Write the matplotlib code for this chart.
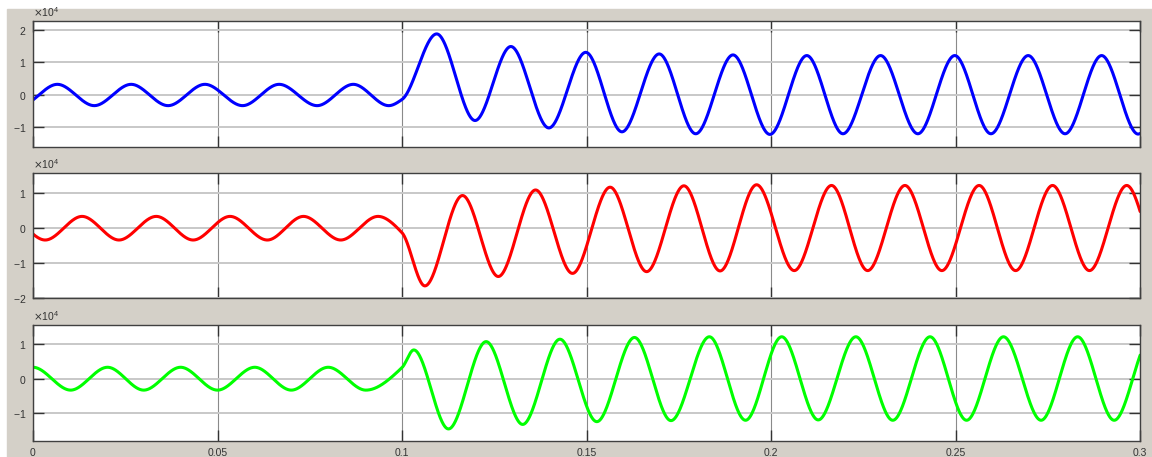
import numpy as np
import matplotlib.pyplot as plt
from matplotlib.patches import Rectangle

plt.rcParams['font.family'] = ['Liberation Sans', 'DejaVu Sans']
plt.rcParams['axes.unicode_minus'] = False

SCALE = 1e4

blue_t = [-0.0034, 0.0066, 0.0166, 0.0266, 0.0366, 0.0466, 0.0568, 0.0667, 0.0770, 0.0868,
          0.0964, 0.1000, 0.1094, 0.1198, 0.1295, 0.1398, 0.1498, 0.1596, 0.1697, 0.1796,
          0.1897, 0.1997, 0.2097, 0.2195, 0.2297, 0.2398, 0.2498, 0.2596, 0.2697, 0.2797,
          0.2896, 0.2995, 0.3095]
blue_v = [-0.34, 0.32, -0.34, 0.32, -0.34, 0.32, -0.34, 0.32, -0.34, 0.32,
          -0.34, -0.15, 1.88, -0.80, 1.49, -1.03, 1.31, -1.15, 1.26, -1.21,
          1.23, -1.23, 1.21, -1.21, 1.21, -1.21, 1.21, -1.21, 1.21, -1.21,
          1.21, -1.22, 1.21]

red_t = [-0.0067, 0.0033, 0.0133, 0.0233, 0.0334, 0.0434, 0.0534, 0.0635, 0.0733, 0.0834,
         0.0935, 0.1000, 0.1062, 0.1164, 0.1261, 0.1362, 0.1462, 0.1564, 0.1663, 0.1764,
         0.1862, 0.1961, 0.2063, 0.2164, 0.2262, 0.2363, 0.2463, 0.2564, 0.2663, 0.2763,
         0.2863, 0.2964, 0.3063]
red_v = [0.34, -0.34, 0.34, -0.34, 0.34, -0.34, 0.34, -0.34, 0.34, -0.34,
         0.34, -0.13, -1.66, 0.94, -1.39, 1.10, -1.30, 1.18, -1.25, 1.22,
         -1.23, 1.25, -1.22, 1.23, -1.22, 1.23, -1.22, 1.23, -1.22, 1.23,
         -1.22, 1.23, -1.22]

green_t = [-0.0100, 0.0000, 0.0102, 0.0202, 0.0300, 0.0400, 0.0500, 0.0601, 0.0700, 0.0800,
           0.0902, 0.1000, 0.1032, 0.1126, 0.1228, 0.1327, 0.1428, 0.1528, 0.1630, 0.1729,
           0.1833, 0.1931, 0.2029, 0.2128, 0.2230, 0.2330, 0.2431, 0.2530, 0.2630, 0.2732,
           0.2831, 0.2930, 0.3031]
green_v = [-0.33, 0.33, -0.33, 0.33, -0.33, 0.33, -0.33, 0.33, -0.33, 0.33,
           -0.33, 0.32, 0.83, -1.45, 1.07, -1.32, 1.14, -1.24, 1.19, -1.21,
           1.21, -1.20, 1.21, -1.19, 1.21, -1.20, 1.21, -1.20, 1.21, -1.20,
           1.21, -1.20, 1.21]

x_ticks = [0, 0.05, 0.1, 0.15, 0.2, 0.25, 0.3]
x_labels = ['0', '0.05', '0.1', '0.15', '0.2', '0.25', '0.3']

panels = [
    (blue_t, blue_v, 'blue', (-1.62, 2.28), [-1, 0, 1, 2]),
    (red_t, red_v, 'red', (-2.0, 1.58), [-2, -1, 0, 1]),
    (green_t, green_v, '#00ff00', (-1.79, 1.55), [-1, 0, 1]),
]


# gladka krzywa przez punkty (Hermite, monotoniczna - jak pchip)
# pierwszy i ostatni punkt to ekstrema -> pochodna 0
def pchip(xk, yk, xs):
    xk = np.asarray(xk, float)
    yk = np.asarray(yk, float)
    h = np.diff(xk)
    d = np.diff(yk) / h
    m = np.zeros_like(yk)
    for i in range(1, len(xk) - 1):
        if d[i - 1] * d[i] > 0:
            w1 = 2 * h[i] + h[i - 1]
            w2 = h[i] + 2 * h[i - 1]
            m[i] = (w1 + w2) / (w1 / d[i - 1] + w2 / d[i])
    idx = np.clip(np.searchsorted(xk, xs) - 1, 0, len(h) - 1)
    s = (xs - xk[idx]) / h[idx]
    h00 = 2 * s ** 3 - 3 * s ** 2 + 1
    h10 = s ** 3 - 2 * s ** 2 + s
    h01 = -2 * s ** 3 + 3 * s ** 2
    h11 = s ** 3 - s ** 2
    return h00 * yk[idx] + h10 * h[idx] * m[idx] + h01 * yk[idx + 1] + h11 * h[idx] * m[idx + 1]


fig = plt.figure(figsize=(11.52, 4.57), dpi=100, facecolor='white')
fig.patches.append(Rectangle((7 / 1152, 0), 1 - 7 / 1152, (457 - 9) / 457,
                             transform=fig.transFigure, color='#d4d0c8', zorder=-10))

boxes = [
    [33 / 1152, (457 - 147) / 457, 1107 / 1152, 126 / 457],
    [33 / 1152, (457 - 297.7) / 457, 1107 / 1152, 124.4 / 457],
    [33 / 1152, (457 - 440.7) / 457, 1107 / 1152, 115.7 / 457],
]

t_dense = np.linspace(-0.005, 0.305, 4000)

for k, (tk, vk, col, ylim, yt) in enumerate(panels):
    ax = fig.add_axes(boxes[k])
    ax.set_facecolor('white')
    v = pchip(tk, vk, t_dense) * SCALE
    ax.plot(t_dense, v, color=col, lw=2.2, solid_capstyle='round')
    ax.set_xlim(0, 0.3)
    ax.set_ylim(ylim[0] * SCALE, ylim[1] * SCALE)
    ax.set_yticks([y * SCALE for y in yt])
    ax.ticklabel_format(axis='y', style='sci', scilimits=(0, 0), useMathText=True)
    ax.yaxis.get_offset_text().set_fontsize(7.5)
    ax.yaxis.get_offset_text().set_color('#444444')
    ax.set_xticks(x_ticks)
    if k == 2:
        ax.set_xticklabels(x_labels)
    else:
        ax.set_xticklabels([])
    ax.xaxis.grid(True, color='#8a8a8a', lw=0.8)
    ax.yaxis.grid(True, color='#c8c8c8', lw=1.4)
    ax.set_axisbelow(True)
    ax.tick_params(direction='in', top=True, right=True, length=8, width=1,
                   color='#333333', labelsize=7.5, labelcolor='#333333', pad=5)
    for sp in ax.spines.values():
        sp.set_color('#404040')
        sp.set_linewidth(1)

plt.savefig('out.png', dpi=100, facecolor='white')
